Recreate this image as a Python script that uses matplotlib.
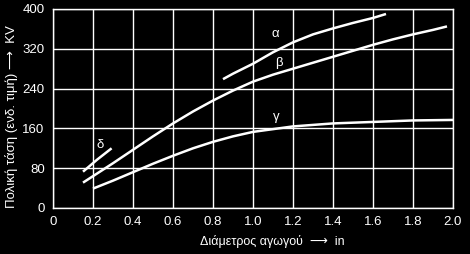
import numpy as np
import matplotlib
matplotlib.use("Agg")
from matplotlib import pyplot as plt

plt.rcParams['font.family'] = ['Liberation Sans', 'DejaVu Sans']

# curve data (x in inches, y in kV)
alpha_x = [0.85, 0.90, 1.00, 1.10, 1.20, 1.30, 1.40, 1.50, 1.60, 1.665]
alpha_y = [259, 270, 290, 313, 333, 349, 361, 372, 382, 390]

beta_x = [0.15, 0.20, 0.30, 0.40, 0.50, 0.60, 0.70, 0.80, 0.90, 1.00, 1.10, 1.20,
          1.30, 1.40, 1.50, 1.60, 1.70, 1.80, 1.90, 1.97]
beta_y = [51, 64, 90, 117, 144, 170, 194, 216, 236, 254, 268, 280,
          292, 304, 316, 328, 339, 349, 358, 365]

gamma_x = [0.20, 0.30, 0.40, 0.50, 0.60, 0.70, 0.80, 0.90, 1.00, 1.20, 1.40, 1.60, 1.80, 2.00]
gamma_y = [39, 55, 72, 89, 105, 120, 133, 144, 153, 164, 170, 173, 176, 177]

delta_x = [0.15, 0.22, 0.293]
delta_y = [73, 97, 120]

x_ticks = [0, 0.2, 0.4, 0.6, 0.8, 1.0, 1.2, 1.4, 1.6, 1.8, 2.0]
x_labels = ['0', '0.2', '0.4', '0.6', '0.8', '1.0', '1.2', '1.4', '1.6', '1.8', '2.0']
y_ticks = [0, 80, 160, 240, 320, 400]

curve_labels = ['α', 'β', 'γ', 'δ']
label_pos = [(1.11, 350), (1.13, 292), (1.115, 183), (0.235, 127)]

fig = plt.figure(figsize=(4.70, 2.54), dpi=100, facecolor='black')
ax = fig.add_axes([53 / 470, 1 - 208 / 254, 400 / 470, 199 / 254])
ax.set_facecolor('black')

for xs, ys in [(alpha_x, alpha_y), (beta_x, beta_y), (gamma_x, gamma_y), (delta_x, delta_y)]:
    ax.plot(xs, ys, color='white', lw=1.8, solid_capstyle='butt', solid_joinstyle='round')

for lab, (lx, ly) in zip(curve_labels, label_pos):
    ax.text(lx, ly, lab, color='white', fontsize=9.5, ha='center', va='center')

ax.set_xlim(0, 2.0)
ax.set_ylim(0, 400)
ax.set_xticks(x_ticks)
ax.set_xticklabels(x_labels)
ax.set_yticks(y_ticks)
ax.grid(True, color='white', lw=1)
ax.tick_params(colors='white', length=0, labelsize=9.5, pad=6)
for s in ax.spines.values():
    s.set_color('white')
    s.set_linewidth(1)

fig.text(12 / 470, 1 - 117 / 254, 'Πολική τάση (ενδ. τιμή) ⟶  KV', rotation=90,
         color='white', fontsize=9.5, ha='center', va='center')
fig.text(200 / 470, 1 - 241 / 254, 'Διάμετρος αγωγού  ⟶  in', color='white',
         fontsize=9, ha='left', va='center')

fig.savefig('out.png', dpi=100, facecolor='black')
